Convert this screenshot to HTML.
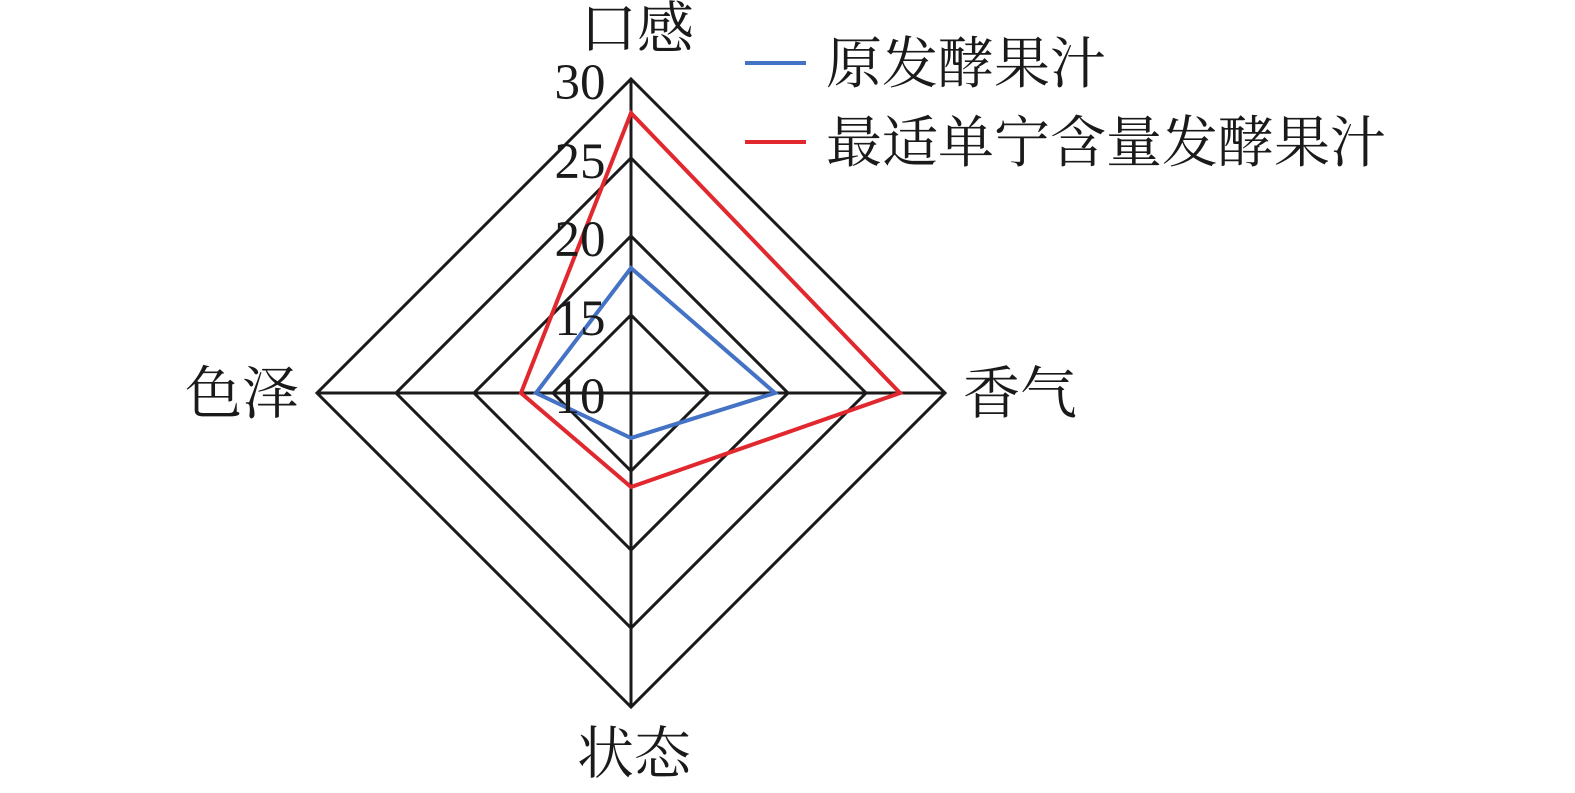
<!DOCTYPE html>
<html><head><meta charset="utf-8"><style>body{margin:0;background:#fff}svg{display:block}</style></head>
<body>
<svg width="1575" height="793" viewBox="0 0 1575 793" xmlns="http://www.w3.org/2000/svg">
<g fill="none" stroke="#1a1a1a" stroke-width="3">
<polygon points="631,79 945,393 631,707 317,393"/>
<polygon points="631,158 866,393 631,628 396,393"/>
<polygon points="631,236 788,393 631,550 474,393"/>
<polygon points="631,315 709,393 631,471 553,393"/>
<line x1="631" y1="79" x2="631" y2="707"/>
<line x1="317" y1="393" x2="945" y2="393"/>
</g>
<polygon points="631,268 775,393 631,438 536,393" fill="none" stroke="#4472c4" stroke-width="4"/>
<polygon points="631,113 900,393 631,487 521,393" fill="none" stroke="#e0282e" stroke-width="4"/>
<g font-family="Liberation Serif, 'Noto Serif CJK SC', serif" fill="#1a1a1a" font-size="51" text-anchor="middle">
<text x="580" y="99">30</text>
<text x="580" y="178">25</text>
<text x="580" y="256">20</text>
<text x="580" y="335">15</text>
<text x="580" y="413">10</text>
</g>
<g font-family="Liberation Serif, 'Noto Serif CJK SC', serif" fill="#1a1a1a" font-size="57" text-anchor="middle">
<text x="637" y="48">口感</text>
<text x="1020" y="413">香气</text>
<text x="634" y="773">状态</text>
<text x="242" y="413">色泽</text>
</g>
<line x1="745" y1="63" x2="806" y2="63" stroke="#4472c4" stroke-width="4"/>
<line x1="745" y1="142" x2="806" y2="142" stroke="#e0282e" stroke-width="4"/>
<g font-family="Liberation Serif, 'Noto Serif CJK SC', serif" fill="#1a1a1a" font-size="56">
<text x="826" y="83">原发酵果汁</text>
<text x="826" y="162">最适单宁含量发酵果汁</text>
</g>
</svg>
</body></html>
